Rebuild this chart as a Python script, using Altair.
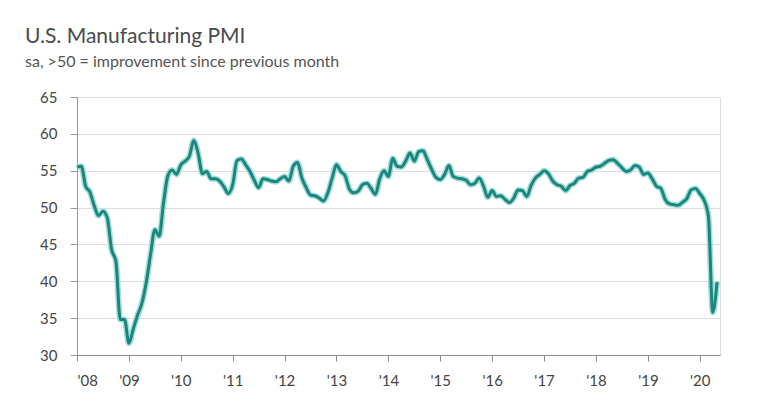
import altair as alt
import pandas as pd

# Monthly U.S. Manufacturing PMI readings (Jan 2008 - May 2020)
y2008 = [55.5, 55.6, 52.9, 52.1, 50.2, 48.9, 49.5, 48.6, 44.3, 42.7, 34.8, 34.8]
y2009 = [31.6, 33.5, 35.4, 37.0, 39.8, 43.6, 47.0, 46.1, 50.6, 54.3, 55.1, 54.5]
y2010 = [55.8, 56.3, 57.0, 59.1, 57.4, 54.6, 54.9, 53.9, 53.9, 53.6, 52.8, 51.9]
y2011 = [53.1, 56.4, 56.6, 55.8, 54.9, 53.7, 52.7, 53.9, 53.8, 53.6, 53.5, 53.9]
y2012 = [54.2, 53.6, 55.6, 56.1, 54.0, 52.7, 51.7, 51.6, 51.3, 50.9, 52.0, 54.0]
y2013 = [55.8, 54.9, 54.3, 52.5, 52.0, 52.2, 53.1, 53.3, 52.6, 51.8, 53.9, 55.0]
y2014 = [54.2, 56.7, 55.6, 55.5, 56.3, 57.4, 56.3, 57.6, 57.7, 56.5, 55.2, 54.1]
y2015 = [53.8, 54.5, 55.7, 54.2, 54.0, 53.9, 53.7, 53.1, 53.3, 54.0, 52.9, 51.4]
y2016 = [52.3, 51.5, 51.6, 51.1, 50.7, 51.3, 52.4, 52.3, 51.5, 53.0, 54.0, 54.5]
y2017 = [55.0, 54.6, 53.6, 53.1, 52.9, 52.3, 53.0, 53.3, 54.0, 54.1, 54.9, 55.1]
y2018 = [55.5, 55.6, 56.0, 56.4, 56.5, 56.0, 55.4, 54.9, 55.1, 55.7, 55.5, 54.5]
y2019 = [54.7, 53.9, 52.9, 52.6, 51.1, 50.5, 50.4, 50.3, 50.7, 51.2, 52.4, 52.6]
y2020 = [51.9, 51.0, 48.8, 35.8, 39.9]

years = list(range(2008, 2021))
series = [y2008, y2009, y2010, y2011, y2012, y2013, y2014, y2015,
          y2016, y2017, y2018, y2019, y2020]
year_ticks = list(range(2008, 2021))

rows = []
for yr, vals in zip(years, series):
    for m, v in enumerate(vals):
        rows.append({"t": yr + m / 12.0, "pmi": v})
df = pd.DataFrame(rows)

x_enc = alt.X(
    "t:Q",
    scale=alt.Scale(domain=[2008, 2020.39], nice=False, zero=False),
    axis=alt.Axis(
        values=year_ticks,
        labelExpr="\"'\" + substring(toString(datum.value), 2, 4)",
        grid=False,
        domainColor="#8c8c8c",
        tickColor="#8c8c8c",
        tickSize=6,
        labelPadding=12,
        labelFontSize=15,
        labelColor="#444444",
        labelFont="Lato",
        title=None,
    ),
)
y_enc = alt.Y(
    "pmi:Q",
    scale=alt.Scale(domain=[30, 65], nice=False, zero=False),
    axis=alt.Axis(
        values=[30, 35, 40, 45, 50, 55, 60, 65],
        grid=True,
        gridColor="#dddddd",
        domainColor="#9a9a9a",
        tickColor="#9a9a9a",
        tickSize=7,
        labelPadding=13,
        labelFontSize=15,
        labelColor="#444444",
        labelFont="Lato",
        title=None,
    ),
)

halo = alt.Chart(df).mark_line(color="#a9dcd8", strokeWidth=6, interpolate="monotone").encode(x=x_enc, y=y_enc)
line = alt.Chart(df).mark_line(color="#17877f", strokeWidth=3, interpolate="monotone").encode(x=x_enc, y=y_enc)

chart = (
    alt.layer(halo, line)
    .properties(
        width=643,
        height=258,
        autosize="none",
        padding={"left": 69, "top": 89, "right": 32, "bottom": 47},
        title=alt.TitleParams(
            text="U.S. Manufacturing PMI",
            subtitle="sa, >50 = improvement since previous month",
            anchor="start",
            frame="group",
            dx=-52,
            offset=20,
            font="Lato",
            fontSize=21,
            fontWeight="normal",
            color="#4a4a4a",
            subtitleFont="Lato",
            subtitleFontSize=16,
            subtitleColor="#555555",
            subtitlePadding=7,
        ),
    )
    .configure_view(stroke=None)
    .configure(background="white")
)

chart.save("out.html", embed_options={"renderer": "svg", "actions": False})
